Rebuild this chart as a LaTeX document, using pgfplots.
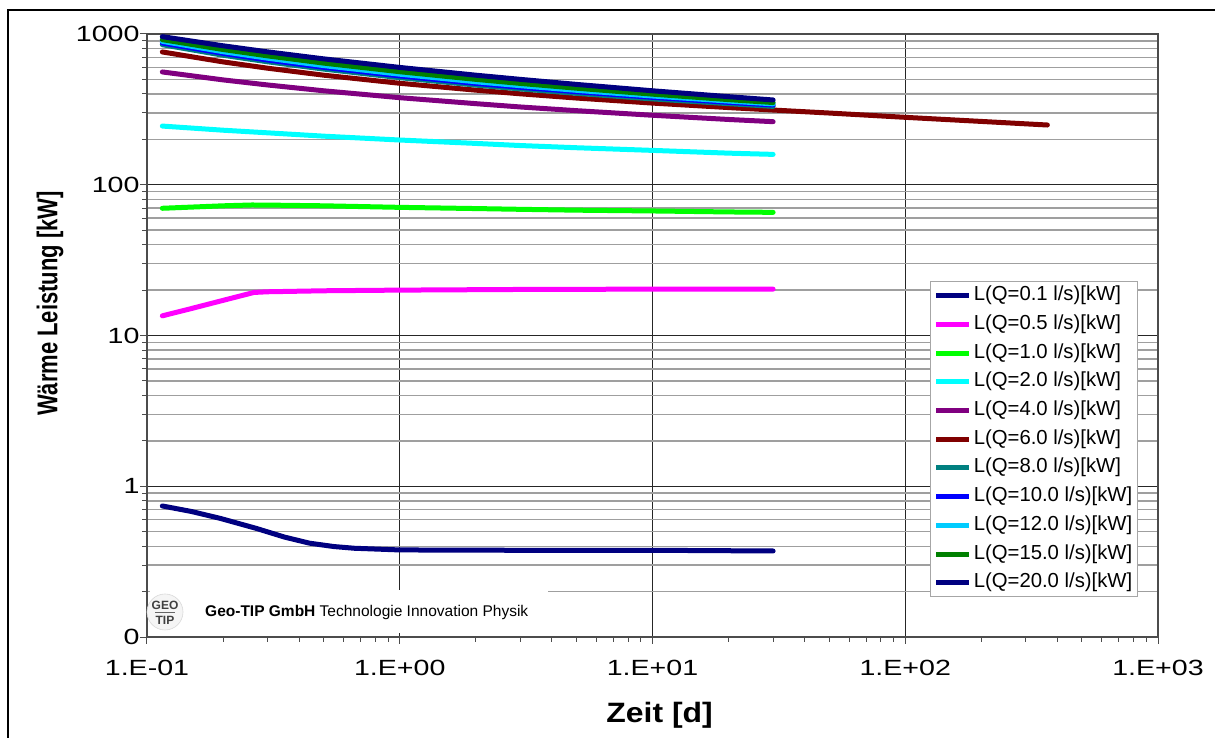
\documentclass[border=0pt]{standalone}
\usepackage{graphicx}
\usepackage{pgfplots}
\pgfplotsset{compat=1.18}
\usepackage{fontspec}
\setmainfont{Liberation Sans}
\newcommand{\sx}[1]{\scalebox{1.3}[1]{#1}}
\definecolor{cNavy}{RGB}{0,0,128}
\definecolor{cMag}{RGB}{255,0,255}
\definecolor{cLime}{RGB}{0,255,0}
\definecolor{cCyan}{RGB}{0,255,255}
\definecolor{cPurple}{RGB}{128,0,128}
\definecolor{cBrown}{RGB}{128,0,0}
\definecolor{cTeal}{RGB}{0,128,128}
\definecolor{cBlue}{RGB}{0,0,255}
\definecolor{cSky}{RGB}{0,204,255}
\definecolor{cDGreen}{RGB}{0,128,0}
\begin{document}
\begin{tikzpicture}
\useasboundingbox (-147pt,-101pt) rectangle (1068pt,637pt);
\draw[black, line width=2.5pt] (-139pt,-110pt) -- (-139pt,627pt) -- (1080pt,627pt);
\begin{loglogaxis}[
 scale only axis, width=1011pt, height=603pt,
 xmin=0.1, xmax=1000, ymin=0.1, ymax=1000,
 xtick={0.1,1,10,100,1000}, xticklabels={\sx{1.E-01},\sx{1.E+00},\sx{1.E+01},\sx{1.E+02},\sx{1.E+03}},
 ytick={0.1,1,10,100,1000}, yticklabels={\sx{0},\sx{1},\sx{10},\sx{100},\sx{1000}},
 ticklabel style={font=\fontsize{22}{26}\selectfont},
 xticklabel style={yshift=-13pt},
 yticklabel style={xshift=3pt},
 tick pos=left, tick align=outside, major tick length=7pt, minor tick length=5pt,
 xmajorgrids, ymajorgrids, yminorgrids,
 major grid style={black!85, line width=0.9pt},
 minor grid style={gray!75, line width=1.4pt},
 tick style={gray!60!black, line width=1pt},
 axis line style={gray!60!black, line width=1.5pt},
 xlabel={\scalebox{1.14}[1]{Zeit [d]}}, ylabel={\scalebox{1}[1.3]{Wärme Leistung [kW]}},
 xlabel style={font=\bfseries\fontsize{28}{32}\selectfont, at={(axis description cs:0.507,-0.130)}, anchor=center},
 ylabel style={font=\bfseries\fontsize{22}{26}\selectfont, at={(axis description cs:-0.096,0.553)}, anchor=center},
 every axis plot/.append style={line width=5pt, line join=round, line cap=round},
 legend cell align=left,
 legend image code/.code={\draw[#1, line cap=butt] (0pt,0pt) -- (33pt,0pt);},
 legend style={at={(0.980,0.066)}, anchor=south east, draw=gray!70, line width=1pt, fill=white,
   font=\fontsize{20.3}{24}\selectfont, inner sep=3pt, row sep=6.7pt,
   nodes={inner xsep=2pt, inner ysep=1pt, text height=15pt, text depth=5pt}},
]
\addplot[cNavy] coordinates {(0.115,0.74) (0.15,0.68) (0.195,0.612) (0.27,0.526) (0.35,0.46) (0.44,0.419) (0.55,0.398) (0.66,0.388) (1,0.378) (3,0.376) (10,0.376) (30,0.372)};
\addlegendentry{L(Q=0.1 l/s)[kW]}
\addplot[cMag] coordinates {(0.115,13.5) (0.15,15.1) (0.2,17.1) (0.265,19.3) (0.3,19.5) (0.5,19.8) (1,20.0) (3,20.2) (10,20.3) (30,20.3)};
\addlegendentry{L(Q=0.5 l/s)[kW]}
\addplot[cLime] coordinates {(0.115,69.8) (0.2,72.5) (0.26,73.4) (0.3,73.3) (0.5,72.5) (1,70.8) (2,69.5) (3,68.7) (5,67.8) (10,67) (20,66) (30,65.6)};
\addlegendentry{L(Q=1.0 l/s)[kW]}
\addplot[cCyan] coordinates {(0.115,245) (0.2,230) (0.3,221) (0.5,210) (1,198) (2,188) (3,182) (5,176) (10,169) (20,162) (30,159)};
\addlegendentry{L(Q=2.0 l/s)[kW]}
\addplot[cPurple] coordinates {(0.115,560) (0.2,496) (0.3,459) (0.5,420) (1,378) (2,345) (3,328) (5,310) (10,289) (20,271) (30,262)};
\addlegendentry{L(Q=4.0 l/s)[kW]}
\addplot[cBrown] coordinates {(0.115,760) (0.2,653) (0.3,593) (0.5,533) (1,471) (2,424) (3,401) (5,376) (10,348) (20,325) (30,313) (50,299) (100,280) (200,263) (365,249)};
\addlegendentry{L(Q=6.0 l/s)[kW]}
\addplot[cTeal] coordinates {(0.115,849) (0.2,723) (0.3,654) (0.5,585) (1,513) (2,458) (3,432) (5,404) (10,371) (20,345) (30,331)};
\addlegendentry{L(Q=8.0 l/s)[kW]}
\addplot[cBlue] coordinates {(0.115,872) (0.2,744) (0.3,672) (0.5,601) (1,527) (2,470) (3,443) (5,414) (10,380) (20,352) (30,338)};
\addlegendentry{L(Q=10.0 l/s)[kW]}
\addplot[cSky] coordinates {(0.115,894) (0.2,763) (0.3,691) (0.5,617) (1,541) (2,482) (3,454) (5,423) (10,388) (20,359) (30,344)};
\addlegendentry{L(Q=12.0 l/s)[kW]}
\addplot[cDGreen] coordinates {(0.115,917) (0.2,789) (0.3,716) (0.5,641) (1,562) (2,500) (3,470) (5,437) (10,399) (20,367) (30,351)};
\addlegendentry{L(Q=15.0 l/s)[kW]}
\addplot[cNavy] coordinates {(0.115,960) (0.2,835) (0.3,761) (0.5,684) (1,600) (2,533) (3,500) (5,463) (10,420) (20,384) (30,365)};
\addlegendentry{L(Q=20.0 l/s)[kW]}
\end{loglogaxis}
\fill[white] (3pt,4pt) rectangle (401pt,47pt);
\filldraw[fill=gray!8, draw=gray!30, line width=0.6pt] (18pt,25pt) circle (18pt);
\node[font=\bfseries\fontsize{12}{13}\selectfont, text=black!75, inner sep=0pt] at (18pt,32pt) {GEO};
\draw[black!60, line width=0.6pt] (8pt,25pt) -- (28pt,25pt);
\node[font=\bfseries\fontsize{12}{13}\selectfont, text=black!75, inner sep=0pt] at (18pt,17pt) {TIP};
\node[anchor=west, font=\fontsize{15.5}{18}\selectfont, inner sep=0pt] at (58pt,25pt) {\textbf{Geo-TIP GmbH} Technologie Innovation Physik};
\end{tikzpicture}
\end{document}
